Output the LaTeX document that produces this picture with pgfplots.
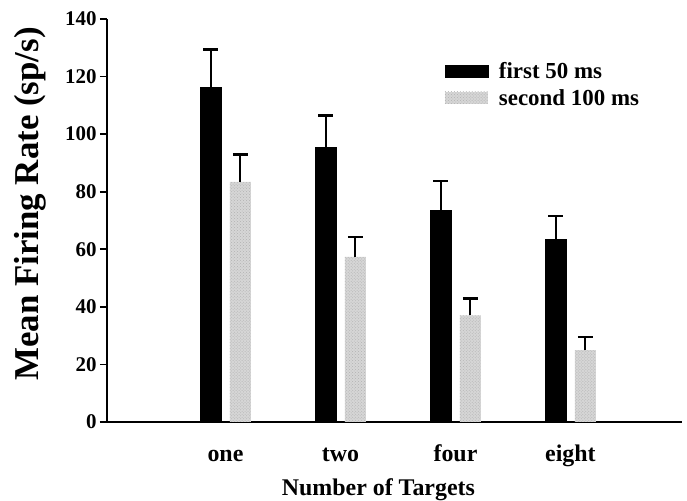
\documentclass[border=0pt]{standalone}
\usepackage{fontspec}
\setmainfont{Liberation Serif}
\usepackage{pgfplots}
\pgfplotsset{compat=1.18}
\usetikzlibrary{patterns}
\definecolor{lightbar}{gray}{0.84}
\begin{document}
\begin{tikzpicture}
\useasboundingbox (0,0) rectangle (687bp,501bp);
\begin{axis}[
  at={(107bp,79bp)}, anchor=south west,
  scale only axis, width=575bp, height=403bp,
  xmin=-1.03, xmax=3.97, ymin=0, ymax=140,
  axis lines*=left,
  axis line style={line width=1.6bp},
  x axis line style={shorten <=-7bp},
  ytick={0,20,...,140},
  xtick={0,1,2,3},
  xticklabels={one,two,four,eight},
  xtick style={draw=none},
  ytick style={line width=1.6bp, black},
  tick align=outside,
  major tick length=7bp,
  /pgf/number format/assume math mode=true,
  yticklabel style={font=\bfseries\fontsize{21}{21}\selectfont},
  xticklabel style={font=\bfseries\fontsize{24}{24}\selectfont, anchor=base, yshift=-32bp},
  ylabel={Mean Firing Rate (sp/s)},
  ylabel style={at={(axis description cs:-0.134,0.541)}, anchor=center, font=\bfseries\fontsize{35}{35}\selectfont},
  xlabel={Number of Targets},
  xlabel style={at={(axis description cs:0.472,0)}, anchor=north, yshift=-53bp, font=\bfseries\fontsize{24}{24}\selectfont},
  ybar, bar width=21bp,
  legend style={draw=none, fill=none, at={(axis description cs:0.585,0.90)}, anchor=north west,
    font=\bfseries\fontsize{23}{23}\selectfont, row sep=5bp, inner sep=1bp,
    /tikz/every odd column/.append style={column sep=9bp}},
  legend cell align=left,
  legend image code/.code={\path[#1] (0bp,-6bp) rectangle (43bp,6bp);},
]
\addplot[bar shift=-14.5bp, fill=black, draw=black,
  error bars/.cd, y dir=plus, y explicit,
  error bar style={line width=2bp, black},
  error mark options={rotate=90, mark size=7.5bp, line width=2.5bp, black}]
  coordinates {(0,116.2) +- (0,13.2) (1,95.4) +- (0,11.0) (2,73.6) +- (0,10.1) (3,63.5) +- (0,8.1)};
\addlegendentry{first 50 ms}
\addplot[bar shift=15bp, fill=lightbar, draw=none,
  postaction={pattern=crosshatch dots, pattern color=black!30},
  error bars/.cd, y dir=plus, y explicit,
  error bar style={line width=2bp, black},
  error mark options={rotate=90, mark size=7.5bp, line width=2.5bp, black}]
  coordinates {(0,83.4) +- (0,9.6) (1,57.4) +- (0,6.9) (2,37.0) +- (0,5.9) (3,25.0) +- (0,4.6)};
\addlegendentry{second 100 ms}
\end{axis}
\end{tikzpicture}
\end{document}
